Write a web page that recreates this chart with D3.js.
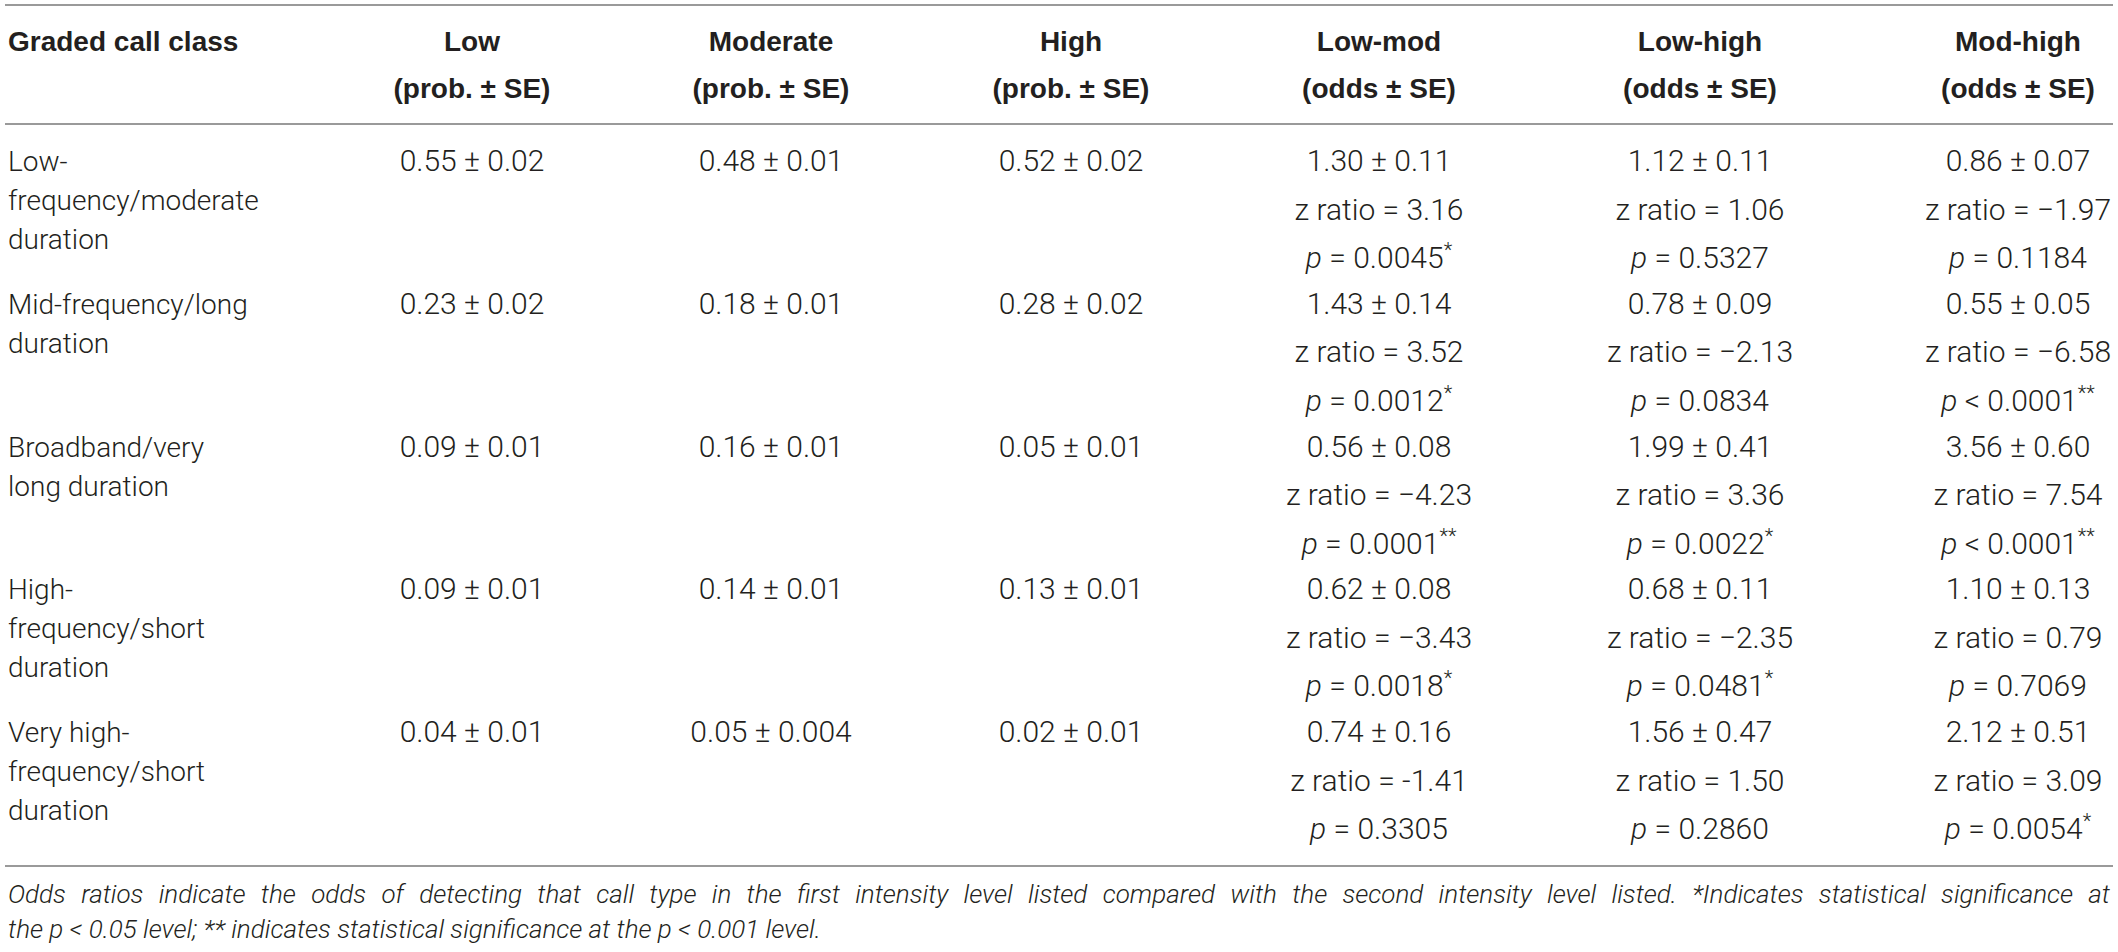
<!DOCTYPE html>
<html>
<head>
<meta charset="utf-8">
<script src="https://cdn.jsdelivr.net/npm/d3@7"></script>
<style>
  body { margin: 0; background: #fff; }
  text { fill: #231f20; }
</style>
</head>
<body>
<svg id="tableSVG"></svg>
<script>
var width = 2118;
var height = 952;

// column headers
var colKeys = ["cls", "low", "mod", "high", "lowMod", "lowHigh", "modHigh"];
var headTop = ["Graded call class", "Low", "Moderate", "High", "Low-mod", "Low-high", "Mod-high"];
var headSub = ["", "(prob. \u00b1 SE)", "(prob. \u00b1 SE)", "(prob. \u00b1 SE)", "(odds \u00b1 SE)", "(odds \u00b1 SE)", "(odds \u00b1 SE)"];

// graded call classes (as wrapped in the table)
var classLines = [
  ["Low-", "frequency/moderate", "duration"],
  ["Mid-frequency/long", "duration"],
  ["Broadband/very", "long duration"],
  ["High-", "frequency/short", "duration"],
  ["Very high-", "frequency/short", "duration"]
];

// probabilities
var probLow  = ["0.55 \u00b1 0.02", "0.23 \u00b1 0.02", "0.09 \u00b1 0.01", "0.09 \u00b1 0.01", "0.04 \u00b1 0.01"];
var probMod  = ["0.48 \u00b1 0.01", "0.18 \u00b1 0.01", "0.16 \u00b1 0.01", "0.14 \u00b1 0.01", "0.05 \u00b1 0.004"];
var probHigh = ["0.52 \u00b1 0.02", "0.28 \u00b1 0.02", "0.05 \u00b1 0.01", "0.13 \u00b1 0.01", "0.02 \u00b1 0.01"];

// odds ratios
var oddsLowMod  = ["1.30 \u00b1 0.11", "1.43 \u00b1 0.14", "0.56 \u00b1 0.08", "0.62 \u00b1 0.08", "0.74 \u00b1 0.16"];
var oddsLowHigh = ["1.12 \u00b1 0.11", "0.78 \u00b1 0.09", "1.99 \u00b1 0.41", "0.68 \u00b1 0.11", "1.56 \u00b1 0.47"];
var oddsModHigh = ["0.86 \u00b1 0.07", "0.55 \u00b1 0.05", "3.56 \u00b1 0.60", "1.10 \u00b1 0.13", "2.12 \u00b1 0.51"];

// z ratios
var zLowMod  = ["3.16", "3.52", "\u22124.23", "\u22123.43", "-1.41"];
var zLowHigh = ["1.06", "\u22122.13", "3.36", "\u22122.35", "1.50"];
var zModHigh = ["\u22121.97", "\u22126.58", "7.54", "0.79", "3.09"];

// p values: [relation, value, stars]
var pLowMod  = [["=", "0.0045", "*"], ["=", "0.0012", "*"], ["=", "0.0001", "**"], ["=", "0.0018", "*"], ["=", "0.3305", ""]];
var pLowHigh = [["=", "0.5327", ""], ["=", "0.0834", ""], ["=", "0.0022", "*"], ["=", "0.0481", "*"], ["=", "0.2860", ""]];
var pModHigh = [["=", "0.1184", ""], ["<", "0.0001", "**"], ["<", "0.0001", "**"], ["=", "0.7069", ""], ["=", "0.0054", "*"]];

var footLines = [
  "Odds ratios indicate the odds of detecting that call type in the first intensity level listed compared with the second intensity level listed. *Indicates statistical significance at",
  "the p < 0.05 level; ** indicates statistical significance at the p < 0.001 level."
];

var lightFont = "Roboto, 'Liberation Sans', Arial, sans-serif";
var boldFont = "'Liberation Sans', Arial, sans-serif";

var svg = d3.select("#tableSVG")
    .attr("width", width)
    .attr("height", height);

// column centres (first column is left aligned)
var colX = d3.scaleOrdinal()
    .domain(colKeys)
    .range([8, 472, 771, 1071, 1379, 1700, 2018]);

// baseline of the first line of each body row
var rowY = d3.scaleLinear().domain([0, 4]).range([171, 742]);
var dataStep = 48.5;
var labelStep = 39;

function rule(y){
  svg.append("line")
      .attr("x1", 5).attr("x2", 2113)
      .attr("y1", y).attr("y2", y)
      .style("stroke", "#9a9a9a")
      .style("stroke-width", 2);
}
rule(5);
rule(124);
rule(866);

// header
colKeys.forEach(function(k, i){
  svg.append("text")
      .attr("x", colX(k))
      .attr("y", 51)
      .attr("text-anchor", i == 0 ? "start" : "middle")
      .style("font-family", boldFont)
      .style("font-weight", "bold")
      .style("font-size", "28px")
      .text(headTop[i]);
  if (headSub[i]) {
    svg.append("text")
        .attr("x", colX(k))
        .attr("y", 98)
        .attr("text-anchor", "middle")
        .style("font-family", boldFont)
        .style("font-weight", "bold")
        .style("font-size", "28px")
        .text(headSub[i]);
  }
});

function cell(x, y){
  return svg.append("text")
      .attr("x", x)
      .attr("y", y)
      .attr("text-anchor", "middle")
      .style("font-family", lightFont)
      .style("font-weight", 300)
      .style("font-size", "30px");
}

function starSpan(t, stars){
  if (stars) {
    t.append("tspan")
        .attr("dy", -11)
        .style("font-size", "20px")
        .text(stars);
  }
}

classLines.forEach(function(lines, r){
  var y0 = rowY(r);

  lines.forEach(function(s, j){
    svg.append("text")
        .attr("x", colX("cls"))
        .attr("y", y0 + j * labelStep)
        .style("font-family", lightFont)
        .style("font-weight", 300)
        .style("font-size", "28px")
        .text(s);
  });

  [["low", probLow], ["mod", probMod], ["high", probHigh]].forEach(function(c){
    cell(colX(c[0]), y0).text(c[1][r]);
  });

  [["lowMod", oddsLowMod, zLowMod, pLowMod],
   ["lowHigh", oddsLowHigh, zLowHigh, pLowHigh],
   ["modHigh", oddsModHigh, zModHigh, pModHigh]].forEach(function(c){
    var x = colX(c[0]);
    cell(x, y0).text(c[1][r]);
    cell(x, y0 + dataStep).text("z ratio = " + c[2][r]);
    var p = c[3][r];
    var t = cell(x, y0 + 2 * dataStep);
    t.append("tspan").style("font-style", "italic").text("p");
    t.append("tspan").text(" " + p[0] + " " + p[1]);
    starSpan(t, p[2]);
  });
});

// footnote
footLines.forEach(function(s, i){
  var t = svg.append("text")
      .attr("x", 8)
      .attr("y", 903 + i * 35)
      .style("font-family", lightFont)
      .style("font-weight", 300)
      .style("font-style", "italic")
      .style("font-size", "26px")
      .text(s);
  if (i == 0) {
    // justified first line
    var gaps = s.split(" ").length - 1;
    var extra = (2110 - 8 - t.node().getComputedTextLength()) / gaps;
    t.style("word-spacing", extra + "px");
  }
});
</script>
</body>
</html>
